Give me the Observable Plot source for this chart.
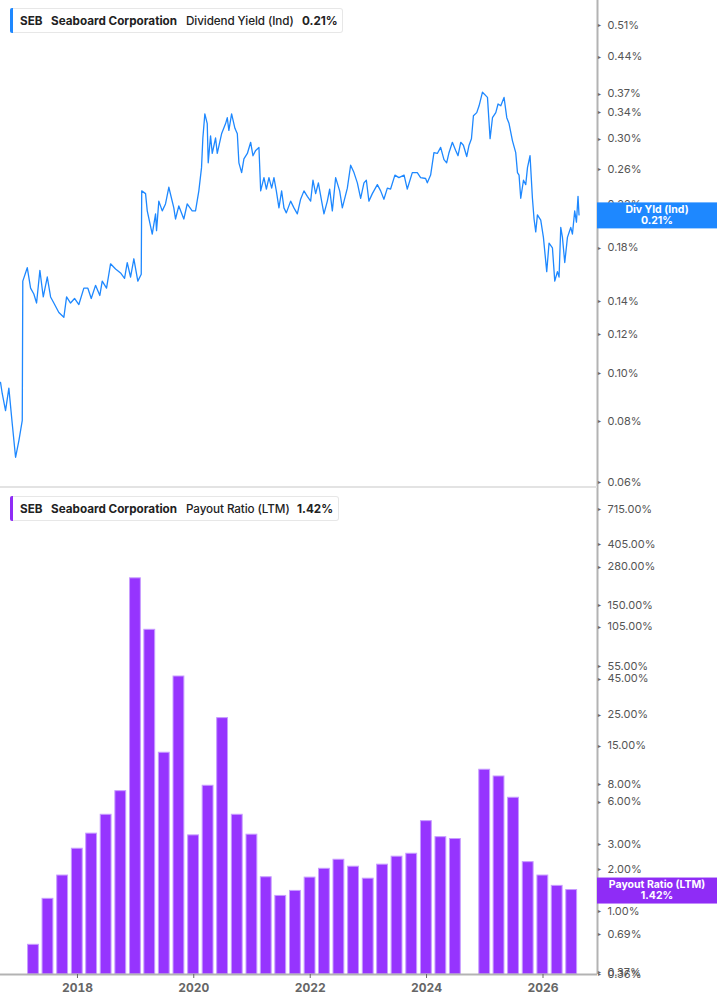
<!DOCTYPE html>
<html>
<head>
<meta charset="utf-8">
<script src="https://cdn.jsdelivr.net/npm/d3@7"></script>
<script src="https://cdn.jsdelivr.net/npm/@observablehq/plot@0.6"></script>
<style>
  html, body { margin: 0; padding: 0; background: #fff; }
  #wrap { position: relative; width: 717px; height: 1005px; overflow: hidden; font-family: Inter, "Noto Sans", sans-serif; }
  .chart { position: absolute; left: 0; }
  .legend { position: absolute; left: 10px; height: 25px; background: #fff; border: 1px solid #e7e7e7; border-left: none; border-radius: 3px; box-sizing: border-box; font-size: 11.7px; color: #222; }
  .legend .accent { position: absolute; left: 0; top: -1px; bottom: -1px; width: 3px; border-radius: 2px 0 0 2px; }
  .legend span.t { position: absolute; top: 5px; white-space: nowrap; line-height: 14px; }
  .b { font-weight: 650; }
  .r { font-weight: 450; letter-spacing: -0.1px; }
  #sep { position: absolute; left: 0; top: 486px; width: 597px; height: 2px; background: #e3e3e3; }
</style>
</head>
<body>
<div id="wrap">
  <div id="top" class="chart" style="top:0"></div>
  <div id="bottom" class="chart" style="top:487px"></div>
  <div id="sep"></div>
  <div class="legend" style="top:8px;width:333px;">
    <div class="accent" style="background:#1e88ff"></div>
    <span class="t b" style="left:10px">SEB</span>
    <span class="t b" style="left:41px">Seaboard Corporation</span>
    <span class="t r" style="left:176px">Dividend Yield (Ind)</span>
    <span class="t b" style="left:292px">0.21%</span>
  </div>
  <div class="legend" style="top:496px;width:329px;">
    <div class="accent" style="background:#8f2cf6"></div>
    <span class="t b" style="left:10px">SEB</span>
    <span class="t b" style="left:41px">Seaboard Corporation</span>
    <span class="t r" style="left:176px">Payout Ratio (LTM)</span>
    <span class="t b" style="left:287px">1.42%</span>
  </div>
</div>
<script>
// ---------- data ----------
const yieldYears = [
  2016.678, 2016.707, 2016.764, 2016.821, 2016.879, 2016.936, 2016.993, 2017.051, 2017.060, 2017.137,
  2017.194, 2017.250, 2017.297, 2017.354, 2017.412, 2017.481, 2017.538, 2017.594, 2017.680, 2017.766,
  2017.813, 2017.881, 2017.950, 2018.024, 2018.110, 2018.179, 2018.237, 2018.311, 2018.385, 2018.426,
  2018.500, 2018.569, 2018.655, 2018.741, 2018.810, 2018.856, 2018.913, 2018.970, 2019.038, 2019.097,
  2019.105, 2019.171, 2019.200, 2019.286, 2019.343, 2019.360, 2019.399, 2019.458, 2019.514, 2019.571,
  2019.657, 2019.686, 2019.743, 2019.829, 2019.887, 2019.973, 2020.030, 2020.087, 2020.133, 2020.156,
  2020.190, 2020.231, 2020.248, 2020.288, 2020.317, 2020.374, 2020.403, 2020.477, 2020.546, 2020.575,
  2020.602, 2020.649, 2020.706, 2020.747, 2020.774, 2020.821, 2020.860, 2020.919, 2020.976, 2021.015,
  2021.062, 2021.118, 2021.148, 2021.204, 2021.246, 2021.290, 2021.337, 2021.376, 2021.417, 2021.462,
  2021.508, 2021.548, 2021.589, 2021.663, 2021.720, 2021.778, 2021.835, 2021.892, 2021.950, 2022.007,
  2022.047, 2022.093, 2022.140, 2022.196, 2022.236, 2022.294, 2022.334, 2022.380, 2022.437, 2022.506,
  2022.552, 2022.638, 2022.695, 2022.752, 2022.810, 2022.867, 2022.924, 2022.965, 2023.009, 2023.068,
  2023.154, 2023.211, 2023.267, 2023.326, 2023.382, 2023.456, 2023.525, 2023.614, 2023.669, 2023.755,
  2023.841, 2023.898, 2023.984, 2024.013, 2024.070, 2024.127, 2024.185, 2024.242, 2024.299, 2024.345,
  2024.385, 2024.443, 2024.500, 2024.540, 2024.586, 2024.632, 2024.689, 2024.729, 2024.770, 2024.804,
  2024.861, 2024.901, 2024.959, 2025.016, 2025.045, 2025.090, 2025.131, 2025.188, 2025.227, 2025.274,
  2025.330, 2025.377, 2025.416, 2025.475, 2025.531, 2025.561, 2025.588, 2025.617, 2025.664, 2025.703,
  2025.733, 2025.777, 2025.818, 2025.846, 2025.875, 2025.904, 2025.961, 2026.007, 2026.064, 2026.104,
  2026.162, 2026.202, 2026.248, 2026.276, 2026.305, 2026.334, 2026.374, 2026.420, 2026.477, 2026.506,
  2026.545, 2026.575, 2026.602, 2026.619
];
const yieldValues = [
  0.0959, 0.091, 0.084, 0.0933, 0.079, 0.0675, 0.073, 0.0802, 0.154, 0.164,
  0.149, 0.145, 0.139, 0.162, 0.143, 0.157, 0.143, 0.139, 0.133, 0.130,
  0.143, 0.139, 0.142, 0.138, 0.149, 0.149, 0.142, 0.151, 0.144, 0.154,
  0.149, 0.167, 0.163, 0.160, 0.156, 0.168, 0.157, 0.171, 0.154, 0.159,
  0.235, 0.232, 0.214, 0.192, 0.211, 0.195, 0.224, 0.214, 0.221, 0.239,
  0.217, 0.206, 0.219, 0.206, 0.221, 0.214, 0.214, 0.235, 0.262, 0.301,
  0.337, 0.322, 0.268, 0.304, 0.280, 0.301, 0.280, 0.307, 0.322, 0.331,
  0.312, 0.337, 0.315, 0.307, 0.268, 0.256, 0.273, 0.280, 0.295, 0.277,
  0.284, 0.288, 0.235, 0.250, 0.237, 0.250, 0.238, 0.250, 0.235, 0.217,
  0.235, 0.217, 0.212, 0.224, 0.217, 0.211, 0.226, 0.235, 0.229, 0.224,
  0.247, 0.232, 0.244, 0.224, 0.211, 0.224, 0.237, 0.214, 0.250, 0.235,
  0.217, 0.238, 0.265, 0.256, 0.244, 0.227, 0.244, 0.247, 0.224, 0.232,
  0.242, 0.235, 0.226, 0.238, 0.237, 0.253, 0.250, 0.253, 0.237, 0.256,
  0.256, 0.250, 0.249, 0.244, 0.253, 0.281, 0.280, 0.288, 0.272, 0.268,
  0.281, 0.295, 0.284, 0.277, 0.295, 0.291, 0.276, 0.291, 0.300, 0.334,
  0.339, 0.350, 0.373, 0.367, 0.364, 0.300, 0.331, 0.339, 0.353, 0.350,
  0.364, 0.331, 0.322, 0.297, 0.281, 0.256, 0.253, 0.227, 0.247, 0.242,
  0.262, 0.277, 0.227, 0.206, 0.194, 0.210, 0.205, 0.189, 0.161, 0.184,
  0.180, 0.154, 0.161, 0.157, 0.198, 0.189, 0.168, 0.189, 0.198, 0.192,
  0.214, 0.203, 0.229, 0.210
];
const payoutDates = [
  "2017-03-31", "2017-06-30", "2017-09-30", "2017-12-31",
  "2018-03-31", "2018-06-30", "2018-09-30", "2018-12-31",
  "2019-03-31", "2019-06-30", "2019-09-30", "2019-12-31",
  "2020-03-31", "2020-06-30", "2020-09-30", "2020-12-31",
  "2021-03-31", "2021-06-30", "2021-09-30", "2021-12-31",
  "2022-03-31", "2022-06-30", "2022-09-30", "2022-12-31",
  "2023-03-31", "2023-06-30", "2023-09-30", "2023-12-31",
  "2024-03-31", "2024-06-30",
  "2024-12-31",
  "2025-03-31", "2025-06-30", "2025-09-30", "2025-12-31",
  "2026-03-31", "2026-06-30"
];
const payoutValues = [
  0.58, 1.23, 1.80, 2.79, 3.57, 4.86, 7.15, 232, 100, 13.4,
  46.6, 3.47, 7.81, 23.6, 4.86, 3.51, 1.75, 1.29, 1.40, 1.74,
  2.01, 2.33, 2.08, 1.71, 2.15, 2.45, 2.57, 4.38, 3.37, 3.27,
  10.15, 9.09, 6.42, 2.24, 1.80, 1.52, 1.42
];
const yieldTicks = [0.51, 0.44, 0.37, 0.34, 0.30, 0.26, 0.22, 0.18, 0.14, 0.12, 0.10, 0.08, 0.06];
const payoutTicks = [715, 405, 280, 150, 105, 55, 45, 25, 15, 8, 6, 3, 2, 1, 0.69, 0.37, 0.36];
const yearTicks = [2018, 2020, 2022, 2024, 2026];
const lastYield = { label: "Div Yld (Ind)", value: 0.21 };
const lastPayout = { label: "Payout Ratio (LTM)", value: 1.42 };

// ---------- helpers ----------
function yearToDate(t) {
  const y = Math.floor(t);
  const s = Date.UTC(y, 0, 1), e = Date.UTC(y + 1, 0, 1);
  return new Date(s + (t - y) * (e - s));
}
const yieldData = yieldYears.map((t, i) => ({ date: yearToDate(t), value: yieldValues[i] }));
const payoutData = payoutDates.map((d, i) => ({ date: new Date(d + "T00:00:00Z"), value: payoutValues[i] }));
const DAY = 864e5;
const xStart = new Date("2016-09-05T00:00:00Z");
const xEnd = new Date("2026-12-09T00:00:00Z");
const yieldMin = 0.0586, yieldMax = 0.573;
const payMin = 0.357, payMax = 975;
const pctFmt = d => d.toFixed(2) + "%";
const axisGrey = "#b3b3b3";
const blue = "#1e88ff";
const purple = "#9634fe";
const font = "Inter, 'Noto Sans', sans-serif";

function rightAxis(ticks) {
  return [
    Plot.tickY(ticks, { y: d => d, x: () => xEnd, stroke: "#555", strokeWidth: 1, insetLeft: 0, dx: 2.5, ...{} }),
    Plot.text(ticks, { y: d => d, x: () => xEnd, text: pctFmt, dx: 10, textAnchor: "start", fontSize: 11, fill: "#555" })
  ];
}

// ---------- top chart ----------
const topChart = Plot.plot({
  width: 717, height: 487,
  marginLeft: 0, marginRight: 120, marginTop: 0, marginBottom: 0,
  style: { fontFamily: font, overflow: "visible", background: "transparent" },
  x: { type: "utc", domain: [xStart, xEnd], axis: null },
  y: { type: "log", domain: [yieldMin, yieldMax], axis: null },
  marks: [
    Plot.line(yieldData, { x: "date", y: "value", stroke: blue, strokeWidth: 1.3 }),
    Plot.ruleX([xEnd], { stroke: axisGrey, strokeWidth: 2 }),
    Plot.text(yieldTicks, { y: d => d, x: () => xEnd, text: () => "\u25B8", dx: 2, textAnchor: "middle", fontSize: 6, fill: "#666" }),
    Plot.text(yieldTicks, { y: d => d, x: () => xEnd, text: pctFmt, dx: 10, textAnchor: "start", fontSize: 11, fill: "#555" })
  ]
});
document.getElementById("top").appendChild(topChart);

// ---------- bottom chart ----------
const bottomChart = Plot.plot({
  width: 717, height: 518,
  marginLeft: 0, marginRight: 120, marginTop: 3, marginBottom: 31,
  style: { fontFamily: font, overflow: "visible", background: "transparent" },
  x: { type: "utc", domain: [xStart, xEnd], axis: null },
  y: { type: "log", domain: [payMin, payMax], axis: null },
  marks: [
    Plot.rectY(payoutData, {
      x1: d => new Date(+d.date - 34 * DAY),
      x2: d => new Date(+d.date + 34 * DAY),
      y1: () => payMin,
      y2: "value",
      fill: purple, stroke: "#c79cff", strokeWidth: 1
    }),
    Plot.ruleX([xEnd], { stroke: axisGrey, strokeWidth: 2, insetTop: -3 }),
    Plot.ruleY([payMin], { stroke: axisGrey, strokeWidth: 2 }),
    Plot.text(payoutTicks, { y: d => d, x: () => xEnd, text: () => "\u25B8", dx: 2, textAnchor: "middle", fontSize: 6, fill: "#666" }),
    Plot.text(payoutTicks, { y: d => d, x: () => xEnd, text: pctFmt, dx: 10, textAnchor: "start", fontSize: 11, fill: "#555" }),
    Plot.axisX({ anchor: "bottom", ticks: yearTicks.map(y => new Date(Date.UTC(y, 0, 1))), tickFormat: d3.utcFormat("%Y"), tickSize: 4, tickPadding: 5, fontSize: 12, fontWeight: 700, color: "#666", label: null })
  ]
});
document.getElementById("bottom").appendChild(bottomChart);

// ---------- last value badges ----------
function badge(chart, info, fill) {
  const y = chart.scale("y").apply(info.value) + 1;
  const svg = d3.select(chart);
  const g = svg.append("g").attr("font-family", font);
  g.append("rect").attr("x", 597).attr("y", y - 13).attr("width", 120).attr("height", 26).attr("fill", fill);
  g.append("text").attr("x", 657).attr("y", y - 5).attr("text-anchor", "middle").attr("dominant-baseline", "middle")
    .attr("fill", "#fff").attr("font-size", 10.5).attr("font-weight", 700).text(info.label);
  g.append("text").attr("x", 657).attr("y", y + 6).attr("text-anchor", "middle").attr("dominant-baseline", "middle")
    .attr("fill", "#fff").attr("font-size", 10.5).attr("font-weight", 700).text(info.value.toFixed(2) + "%");
}
badge(topChart, lastYield, blue);
badge(bottomChart, lastPayout, "#8f2cf6");
</script>
</body>
</html>
